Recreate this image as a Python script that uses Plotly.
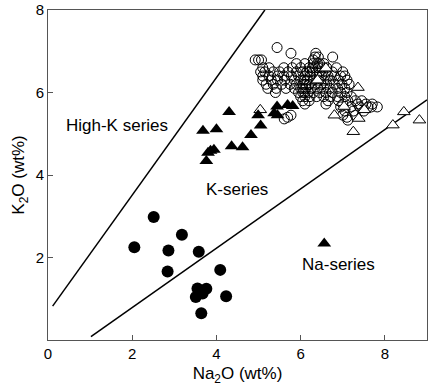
import plotly.graph_objects as go

# Data
ca_x = [2.05, 2.51, 3.18, 2.86, 3.58, 2.84, 4.09, 3.55, 3.76, 3.51, 3.67, 4.23, 3.64]
ca_y = [2.25, 2.98, 2.55, 2.17, 2.14, 1.66, 1.70, 1.25, 1.24, 1.04, 1.13, 1.06, 0.65]

ft_x = [3.68, 4.00, 3.86, 3.94, 3.76, 3.80, 4.30, 4.36, 4.62, 4.82, 5.05, 4.99, 5.44,
        5.37, 5.45, 5.69, 5.81, 6.56]
ft_y = [5.07, 5.11, 4.59, 4.61, 4.34, 4.54, 5.53, 4.70, 4.67, 4.97, 5.20, 5.45, 5.66,
        5.50, 5.45, 5.70, 5.67, 2.34]

ot_x = [5.04, 6.60, 7.36, 6.80, 7.38, 7.25, 8.19, 8.45, 8.82, 7.03, 7.51, 6.40]
ot_y = [5.58, 6.59, 6.12, 5.45, 5.37, 5.05, 5.21, 5.53, 5.33, 5.66, 5.58, 6.30]

oc_rows = [
    (7.09, [5.44]),
    (6.95, [5.77, 6.36]),
    (6.86, [6.34, 6.42, 6.76]),
    (6.79, [4.92, 5.00, 5.07, 6.30]),
    (6.70, [5.90, 6.10, 6.30, 6.45, 6.55, 6.40]),
    (6.60, [5.10, 5.25, 5.60, 5.80, 6.00, 6.20, 6.35, 6.50, 6.62, 6.85, 6.28, 6.42]),
    (6.50, [5.05, 5.15, 5.35, 5.50, 5.70, 5.90, 6.05, 6.15, 6.30, 6.45, 6.60, 6.75, 7.00, 6.22]),
    (6.40, [5.10, 5.25, 5.45, 5.60, 5.78, 5.95, 6.10, 6.22, 6.38, 6.50, 6.65, 6.80, 6.95, 7.05]),
    (6.30, [5.10, 5.30, 5.45, 5.62, 5.85, 6.00, 6.15, 6.30, 6.42, 6.55, 6.70, 6.90, 7.10, 6.08]),
    (6.20, [5.18, 5.35, 5.55, 5.75, 5.90, 6.05, 6.20, 6.35, 6.48, 6.62, 6.80, 6.98, 7.15, 6.12]),
    (6.10, [5.22, 5.42, 5.65, 5.85, 6.00, 6.12, 6.25, 6.40, 6.55, 6.70, 6.88, 7.05, 6.05]),
    (6.00, [5.40, 5.95, 6.05, 6.18, 6.30, 6.45, 6.60, 6.75, 6.95, 7.10, 6.10]),
    (5.90, [6.00, 6.10, 6.22, 6.38, 6.55, 6.70, 6.88, 7.05, 7.20]),
    (5.80, [6.05, 6.20, 6.65, 6.90, 7.12, 7.30, 7.45]),
    (5.72, [6.10, 6.60, 7.00, 7.36, 7.55, 7.70]),
    (5.65, [6.95, 7.20, 7.40, 7.60, 7.68, 7.82]),
    (5.55, [7.05, 7.25, 7.50]),
    (5.45, [5.77, 7.00, 7.30]),
    (5.40, [5.69, 7.10]),
    (5.36, [5.61]),
    (5.33, [7.12]),
]
oc_x = [x for y, xs in oc_rows for x in xs]
oc_y = [y for y, xs in oc_rows for x in xs]

line1_x = [0.11, 5.15]
line1_y = [0.82, 8.0]
line2_x = [1.02, 9.0]
line2_y = [0.08, 5.82]

labels = ["High-K series", "K-series", "Na-series"]
label_x = [1.65, 4.49, 6.91]
label_y = [5.21, 3.64, 1.82]

x_ticks = [0, 2, 4, 6, 8]
y_ticks = [2, 4, 6, 8]

FONT = "Liberation Sans, Arial, sans-serif"

fig = go.Figure()
fig.add_trace(go.Scatter(x=line1_x, y=line1_y, mode="lines",
                         line=dict(color="black", width=1.5), hoverinfo="skip"))
fig.add_trace(go.Scatter(x=line2_x, y=line2_y, mode="lines",
                         line=dict(color="black", width=1.5), hoverinfo="skip"))
fig.add_trace(go.Scatter(x=oc_x, y=oc_y, mode="markers",
                         marker=dict(symbol="circle-open", size=10, color="black",
                                     line=dict(width=1))))
fig.add_trace(go.Scatter(x=ot_x, y=ot_y, mode="markers",
                         marker=dict(symbol="triangle-up", size=11, color="white",
                                     line=dict(width=1, color="black"))))
fig.add_trace(go.Scatter(x=ft_x, y=ft_y, mode="markers",
                         marker=dict(symbol="triangle-up", size=12, color="black")))
fig.add_trace(go.Scatter(x=ca_x, y=ca_y, mode="markers",
                         marker=dict(symbol="circle", size=12, color="black")))

for t, lx, ly in zip(labels, label_x, label_y):
    fig.add_annotation(x=lx, y=ly, text=t, showarrow=False,
                       font=dict(size=17, color="black", family=FONT))

axis_common = dict(showgrid=False, zeroline=False, showline=True, mirror=True,
                   linecolor="#555", linewidth=1, ticks="inside", ticklen=5,
                   tickcolor="#555", automargin=False, ticklabeloverflow="allow",
                   tickfont=dict(size=15, color="black", family=FONT))

fig.update_layout(
    width=432, height=389,
    margin=dict(l=48, r=5, t=10, b=49),
    plot_bgcolor="white", paper_bgcolor="white",
    showlegend=False,
    font=dict(family=FONT, color="black"),
    xaxis=dict(range=[0, 9], tickvals=x_ticks,
               title=dict(text="Na<sub>2</sub>O (wt%)", font=dict(size=17), standoff=6),
               **axis_common),
    yaxis=dict(range=[0, 8], tickvals=y_ticks,
               title=dict(text="K<sub>2</sub>O (wt%)", font=dict(size=17), standoff=6),
               **axis_common),
)

fig.write_html("out.html", config={"displayModeBar": False},
               post_script="document.body.style.margin='0';")
